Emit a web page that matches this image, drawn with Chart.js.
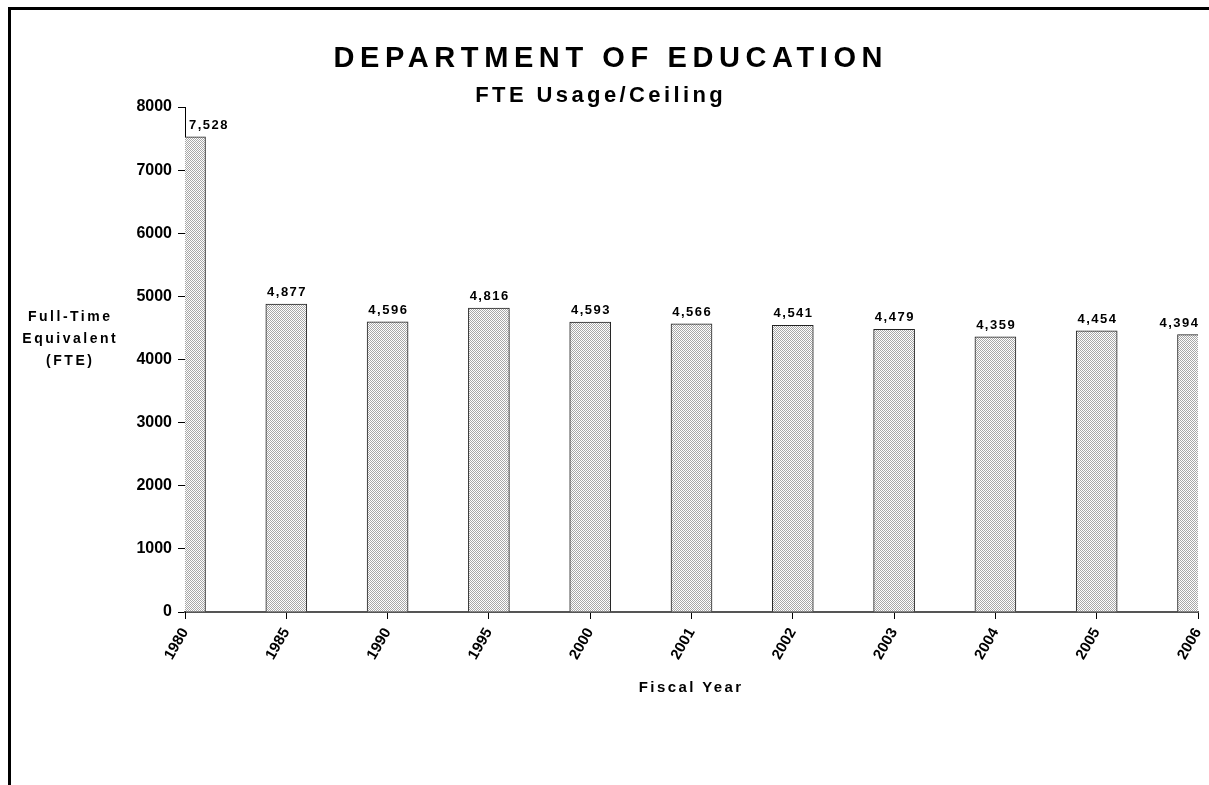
<!DOCTYPE html>
<html>
<head>
<meta charset="utf-8">
<script src="https://cdn.jsdelivr.net/npm/chart.js@4"></script>
<style>
  html, body { margin: 0; padding: 0; background: #fff; overflow: hidden; }
  #wrap { position: absolute; left: 0; top: 0; width: 1209px; height: 785px; }
  #frame { position: absolute; left: 8px; top: 7px; width: 1300px; height: 900px;
           border-top: 3px solid #000; border-left: 3px solid #000; pointer-events: none; }
</style>
</head>
<body>
<div id="wrap"><canvas id="myChart" width="1209" height="785"></canvas></div>
<div id="frame"></div>
<script>
// data
const years = ['1980','1985','1990','1995','2000','2001','2002','2003','2004','2005','2006'];
const fte = [7528, 4877, 4596, 4816, 4593, 4566, 4541, 4479, 4359, 4454, 4394];
const yMin = 0, yMax = 8000, yStep = 1000;

const titleText = 'DEPARTMENT OF EDUCATION';
const subTitleText = 'FTE Usage/Ceiling';
const yTitle = ['Full-Time', 'Equivalent', '(FTE)'];
const xTitle = 'Fiscal Year';

const FONT = "'Liberation Sans', Arial, sans-serif";

// dotted grey fill like the old excel pattern
function makePattern(){
  const c = document.createElement('canvas');
  c.width = 2; c.height = 2;
  const g = c.getContext('2d');
  g.fillStyle = '#ffffff'; g.fillRect(0,0,2,2);
  g.fillStyle = '#a8a8a8';
  g.fillRect(0,0,1,1); g.fillRect(1,1,1,1);
  return g.createPattern(c, 'repeat');
}

function spacedText(ctx, txt, x, y, font, spacing, align){
  ctx.save();
  ctx.font = font;
  ctx.fillStyle = '#000';
  ctx.textBaseline = 'alphabetic';
  ctx.letterSpacing = spacing + 'px';
  ctx.textAlign = 'left';
  const w = ctx.measureText(txt).width - spacing;
  let sx = x;
  if (align === 'center') sx = x - w/2;
  else if (align === 'right') sx = x - w;
  ctx.fillText(txt, sx, y);
  ctx.restore();
}

const textPlugin = {
  id: 'texts',
  afterDatasetsDraw(chart){
    const ctx = chart.ctx;
    const area = chart.chartArea;
    const meta = chart.getDatasetMeta(0);
    const f = 'bold 13px ' + FONT;
    meta.data.forEach((bar, i) => {
      const txt = fte[i].toLocaleString('en-US');
      ctx.save();
      ctx.font = f; ctx.letterSpacing = '1.5px';
      const w = ctx.measureText(txt).width;
      ctx.restore();
      let x = bar.x, align = 'center';
      if (x - w/2 < area.left) { x = area.left + 4; align = 'left'; }
      else if (x + w/2 > area.right) { x = area.right; align = 'right'; }
      spacedText(ctx, txt, x, bar.y - 8, f, 1.5, align);
    });
  },
  afterDraw(chart){
    const ctx = chart.ctx;
    spacedText(ctx, titleText, 608, 67, 'bold 29px ' + FONT, 5.6, 'center');
    spacedText(ctx, subTitleText, 599, 102, 'bold 22px ' + FONT, 3.4, 'center');
    const yb = [321, 343, 365];
    yTitle.forEach((t, i) => spacedText(ctx, t, 69, yb[i], 'bold 14px ' + FONT, 2.5, 'center'));
    spacedText(ctx, xTitle, 690, 692, 'bold 15px ' + FONT, 2.4, 'center');
  }
};

const ctx = document.getElementById('myChart').getContext('2d');
const myChart = new Chart(ctx, {
  type: 'bar',
  data: {
    labels: years,
    datasets: [{
      label: 'FTE',
      data: fte,
      backgroundColor: makePattern(),
      borderColor: '#222',
      borderWidth: 1,
      barThickness: 41,
      clip: 0
    }]
  },
  options: {
    responsive: false,
    animation: false,
    layout: { padding: { left: 0, top: 107, right: 11, bottom: 83 } },
    plugins: {
      legend: { display: false },
      title: { display: false },
      tooltip: { enabled: false }
    },
    scales: {
      x: {
        offset: false,
        grid: { display: true, offset: false, drawOnChartArea: false, drawTicks: true, tickLength: 7, color: '#000' },
        border: { display: true, color: '#555', width: 2 },
        ticks: {
          autoSkip: false, maxRotation: 60, minRotation: 60, padding: 6,
          color: '#000', font: { family: FONT, size: 15, weight: 'bold' }
        },
        afterFit(s){ s.height = 90; s.paddingLeft = 0; s.paddingRight = 0; }
      },
      y: {
        min: yMin, max: yMax,
        grid: { display: true, drawOnChartArea: false, drawTicks: true, tickLength: 7, color: '#000' },
        border: { display: true, color: '#000', width: 1 },
        ticks: {
          stepSize: yStep, padding: 6, color: '#000',
          font: { family: FONT, size: 16, weight: 'bold' },
          callback: v => String(v)
        },
        afterFit(s){ s.width = 185; }
      }
    }
  },
  plugins: [textPlugin]
});
</script>
</body>
</html>
